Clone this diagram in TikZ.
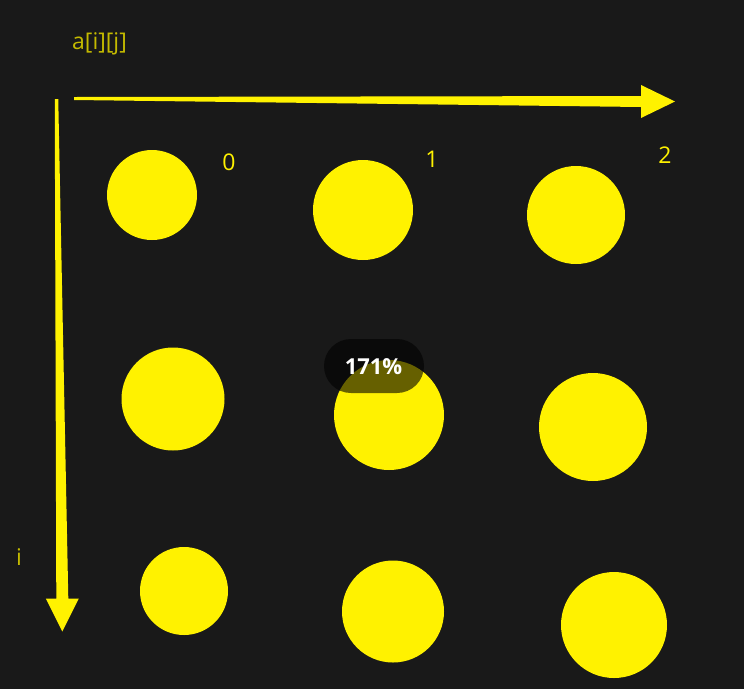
\documentclass[tikz,border=0pt]{standalone}
\usepackage{fontspec}
\setmainfont{Open Sans}
\usetikzlibrary{positioning,calc}
\definecolor{bgdark}{HTML}{191919}
\definecolor{dotyellow}{HTML}{FFF200}
\definecolor{dimyellow}{HTML}{C4BA00}

\begin{document}
\begin{tikzpicture}[x=1pt,y=-1pt,dot/.style={circle,fill=dotyellow,inner sep=0pt},axis/.style={fill=dotyellow},idx/.style={text=dotyellow,inner sep=0pt,anchor=base,font=\fontsize{23}{26}\selectfont},lbl/.style={text=dimyellow,inner sep=0pt,anchor=base,font=\fontsize{23}{26}\selectfont}]
	\fill[bgdark] (0,0) rectangle (744,689);
	\useasboundingbox (0,0) rectangle (744,689);
	
	% axes
	\coordinate (jtail) at (74,98.5);
	\coordinate (jtip) at (675,101.5);
	\fill[axis] ($(jtail)+(0,-1.5)$) -- ($(jtip)+(-34,-5.5)$) -- ($(jtip)+(-34,-16.5)$) -- (jtip) -- ($(jtip)+(-34,16.5)$) -- ($(jtip)+(-34,5.5)$) -- ($(jtail)+(0,1.5)$) -- cycle;
	\coordinate (itail) at (56.5,99);
	\coordinate (itip) at (62.3,631.5);
	\fill[axis] ($(itail)+(-1.75,0)$) -- ($(itip)+(-6,-33)$) -- ($(itip)+(-16.5,-33)$) -- (itip) -- ($(itip)+(16.5,-33)$) -- ($(itip)+(6,-33)$) -- ($(itail)+(1.75,0)$) -- cycle;
	
	\node[lbl] (aij) at (99.5,49) {a[i][j]};
	\node[lbl] (ilbl) at (19,565) {i};
	\node[idx] (j0) at (229,170) {0};
	\node[idx] (j1) at (432,167) {1};
	\node[idx] (j2) at (665,163) {2};
	
	% row 0
	\node[dot,minimum size=90] (c00) at (152,195) {};
	\node[dot,minimum size=100] (c01) at (363,210) {};
	\node[dot,minimum size=98] (c02) at (576,215) {};
	% row 1
	\node[dot,minimum size=103] (c10) at (173,399) {};
	\node[dot,minimum size=110] (c11) at (389,415) {};
	\node[dot,minimum size=108] (c12) at (593,427) {};
	% row 2
	\node[dot,minimum size=88] (c20) at (184,591) {};
	\node[dot,minimum size=102] (c21) at (393,611.5) {};
	\node[dot,minimum size=106] (c22) at (614,625) {};
	
	\node[fill=black,fill opacity=0.6,rounded corners=27,minimum width=100,minimum height=54,inner sep=0pt] (zoom) at (374,366) {};
	\node[text=white,inner sep=0pt,anchor=base,font=\bfseries\fontsize{22}{24}\selectfont] (zoomtxt) at (373.5,374) {171\%};
\end{tikzpicture}
\end{document}
